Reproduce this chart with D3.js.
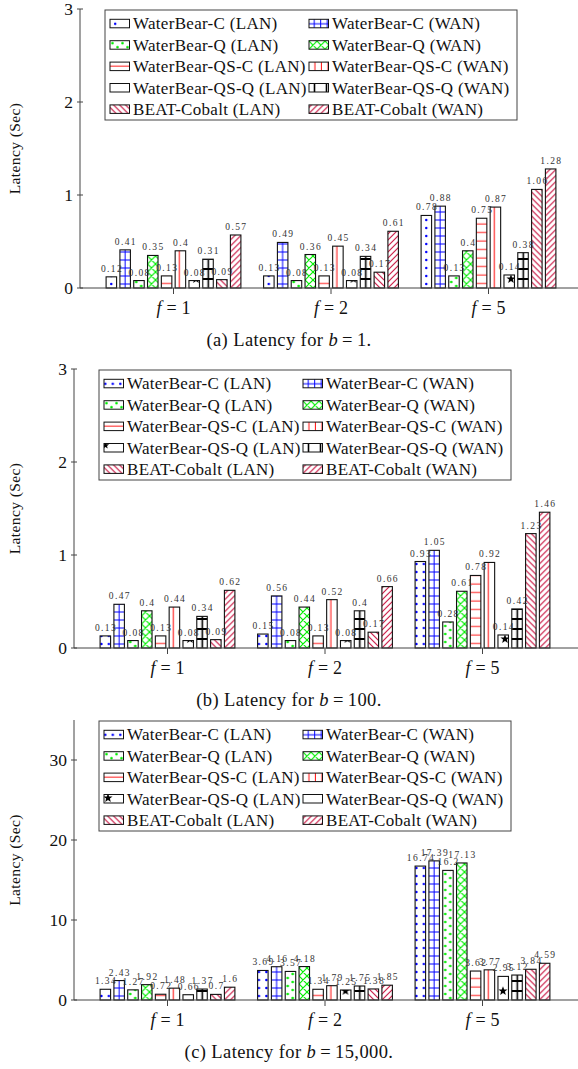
<!DOCTYPE html>
<html><head><meta charset="utf-8">
<script src="https://cdn.jsdelivr.net/npm/d3@7"></script>
<style>body{margin:0;background:#fff} svg{display:block}</style>
</head><body><svg id="chart" width="578" height="1069"></svg>
<script>
// ---------- data ----------
const seriesNames = ["WaterBear-C (LAN)","WaterBear-C (WAN)","WaterBear-Q (LAN)","WaterBear-Q (WAN)",
  "WaterBear-QS-C (LAN)","WaterBear-QS-C (WAN)","WaterBear-QS-Q (LAN)","WaterBear-QS-Q (WAN)",
  "BEAT-Cobalt (LAN)","BEAT-Cobalt (WAN)"];
const groups = ["1","2","5"];            // f = 1, 2, 5
// latency (sec) per group, series order as seriesNames
const latencyB1 = [
  [0.12,0.41,0.08,0.35,0.13,0.4,0.08,0.31,0.09,0.57],
  [0.13,0.49,0.08,0.36,0.13,0.45,0.08,0.34,0.17,0.61],
  [0.78,0.88,0.13,0.4,0.75,0.87,0.14,0.38,1.06,1.28]];
const latencyB100 = [
  [0.13,0.47,0.08,0.4,0.13,0.44,0.08,0.34,0.09,0.62],
  [0.15,0.56,0.08,0.44,0.13,0.52,0.08,0.4,0.17,0.66],
  [0.93,1.05,0.28,0.61,0.78,0.92,0.14,0.42,1.23,1.46]];
const latencyB15000 = [
  [1.34,2.43,1.27,1.92,0.72,1.48,0.66,1.37,0.7,1.6],
  [3.69,4.16,3.57,4.18,1.34,1.79,1.25,1.75,1.38,1.85],
  [16.74,17.39,16.2,17.13,3.62,3.77,2.95,3.12,3.84,4.59]];
const yTicksSmall = [0,1,2,3];
const yTicksLarge = [0,10,20,30];
const captionPrefix = ["(a)","(b)","(c)"];
const captionValue = ["1.","100.","15,000."];

// ---------- drawing ----------
const svg = d3.select("#chart");
svg.append("rect").attr("width",578).attr("height",1069).attr("fill","#fff");
const defs = svg.append("defs");
const BLUE="#0000ff", GREEN="#00ee00", RED="#ff1a1a", CRIM="#c8103e";

function star(cx,cy,R,r){
  const pts=[];
  for(let k=0;k<10;k++){const a=-Math.PI/2+k*Math.PI/5;const rr=k%2?r:R;pts.push([cx+rr*Math.cos(a),cy+rr*Math.sin(a)]);}
  return "M"+pts.map(p=>p.map(v=>v.toFixed(2)).join(",")).join("L")+"Z";
}
// tile specs; tile origin is placed at each mark's bottom-left corner
const patSpecs = [
  (pi,leg)=>({w: pi===0?20:7.5, h:8, draw:g=>g.append("circle").attr("cx",pi===0?5.2:1.3).attr("cy",4).attr("r",1.25).attr("fill",BLUE)}),
  (pi,leg)=>({w:leg?6.5:20,h:8,draw:g=>{g.append("line").attr("x1",5.2).attr("x2",5.2).attr("y1",0).attr("y2",8).attr("stroke",BLUE).attr("stroke-width",1);
                   g.append("line").attr("x1",0).attr("x2",20).attr("y1",4).attr("y2",4).attr("stroke",BLUE).attr("stroke-width",1);}}),
  (pi,leg)=>({w:10,h:8,draw:g=>{g.append("circle").attr("cx",2.5).attr("cy",2).attr("r",1.3).attr("fill",GREEN);
                   g.append("circle").attr("cx",7.5).attr("cy",6).attr("r",1.3).attr("fill",GREEN);}}),
  (pi,leg)=>({w:8,h:8,draw:g=>{g.append("path").attr("d","M0,0L8,8M8,0L0,8M-1,7L1,9M7,-1L9,1M-1,1L1,-1M7,9L9,7").attr("stroke",GREEN).attr("stroke-width",1.2);}}),
  (pi,leg)=>({w:10,h:8.5,draw:g=>g.append("line").attr("x1",0).attr("x2",10).attr("y1",4).attr("y2",4).attr("stroke",RED).attr("stroke-width",1)}),
  (pi,leg)=>({w:leg?6.5:20,h:10,draw:g=>g.append("line").attr("x1",leg?6:4.2).attr("x2",leg?6:4.2).attr("y1",0).attr("y2",10).attr("stroke",RED).attr("stroke-width",1.1)}),
  (pi,leg)=>({w:40,h:26,draw:g=>{
      if(leg && pi===0) return;
      if(leg && pi===1){ g.append("path").attr("d",star(1.5,19.5,3.8,1.6)).attr("fill","#000"); return; }
      if(leg){ g.append("path").attr("d",star(4,21,4.8,2)).attr("fill","#000"); return; }
      g.append("path").attr("d",star(pi===2?5:7,17,4.8,2)).attr("fill","#000");}}),
  (pi,leg)=>({w:12,h:10,draw:g=>{ if(leg && pi===2) return;
                   g.append("line").attr("x1",0).attr("x2",12).attr("y1",1).attr("y2",1).attr("stroke","#000").attr("stroke-width",2);
                   g.append("line").attr("x1",5.5).attr("x2",5.5).attr("y1",1).attr("y2",10).attr("stroke","#000").attr("stroke-width",1.6);}}),
  (pi,leg)=>({w:6,h:6,draw:g=>g.append("path").attr("d","M0,0L6,6M-1,5L1,7M5,-1L7,1").attr("stroke",CRIM).attr("stroke-width",1.1)}),
  (pi,leg)=>({w:6,h:6,draw:g=>g.append("path").attr("d","M0,6L6,0M-1,1L1,-1M5,7L7,5").attr("stroke",CRIM).attr("stroke-width",1.1)})
];
let patCount = 0;
function makePattern(series, pi, ox, oy, leg){
  const s = patSpecs[series](pi, !!leg);
  const id = "p"+(patCount++);
  const p = defs.append("pattern").attr("id",id).attr("patternUnits","userSpaceOnUse")
    .attr("x",ox).attr("y",oy).attr("width",s.w).attr("height",s.h);
  p.append("rect").attr("width",s.w).attr("height",s.h).attr("fill","#fff");
  s.draw(p);
  return `url(#${id})`;
}

const FONT = "'Liberation Serif','Times New Roman',serif";
const panels = [
  {data:latencyB1, ticks:yTicksSmall, yMax:3, axisX:80, baseY:288, topY:9, capY:346},
  {data:latencyB100, ticks:yTicksSmall, yMax:3, axisX:74, baseY:648, topY:369, capY:706},
  {data:latencyB15000, ticks:yTicksLarge, yMax:35, axisX:74, baseY:1000, topY:720, capY:1058}
];

panels.forEach((P,pi)=>{
  const g = svg.append("g");
  const x = d3.scalePoint().domain(groups).range([P.axisX+93.5, P.axisX+408.5]);
  const xi = d3.scaleBand().domain(d3.range(seriesNames.length)).range([-67.4,67.4]).paddingInner(0.24);
  const y = d3.scaleLinear().domain([0,P.yMax]).range([P.baseY,P.topY]);

  // bars
  P.data.forEach((vals,gi)=>{
    const cx = x(groups[gi]);
    const gg = g.append("g");
    gg.selectAll("rect").data(vals).join("rect")
      .attr("x",(d,i)=>cx+xi(i)).attr("width",xi.bandwidth())
      .attr("y",d=>y(d)).attr("height",d=>y(0)-y(d))
      .attr("fill",(d,i)=>makePattern(i,pi,cx+xi(i),y(0)))
      .attr("stroke","#111").attr("stroke-width",1.1);
    gg.selectAll("text").data(vals).join("text")
      .attr("x",(d,i)=>cx+xi(i)+xi.bandwidth()/2+0.7).attr("y",d=>y(d)-5)
      .attr("text-anchor","middle").attr("font-family",FONT).attr("font-size",9.5)
      .attr("letter-spacing",1.4).attr("fill","#333").text(d=>d);
  });

  // y axis
  g.append("line").attr("x1",P.axisX).attr("x2",P.axisX).attr("y1",P.baseY).attr("y2",P.topY).attr("stroke","#444").attr("stroke-width",1);
  P.ticks.forEach(t=>{
    g.append("line").attr("x1",P.axisX-3).attr("x2",P.axisX+3).attr("y1",y(t)).attr("y2",y(t)).attr("stroke","#444");
    g.append("text").attr("x",P.axisX-7).attr("y",y(t)).attr("dy","0.35em").attr("text-anchor","end")
      .attr("font-family",FONT).attr("font-size",17.5).attr("fill","#111").text(t);
  });
  // x axis
  g.append("line").attr("x1",P.axisX).attr("x2",578).attr("y1",P.baseY).attr("y2",P.baseY).attr("stroke","#444").attr("stroke-width",1);
  groups.forEach(c=>{
    g.append("line").attr("x1",x(c)).attr("x2",x(c)).attr("y1",P.baseY).attr("y2",P.baseY+6).attr("stroke","#444");
    const t = g.append("text").attr("x",x(c)).attr("y",P.baseY+26).attr("text-anchor","middle")
      .attr("font-family",FONT).attr("font-size",18).attr("fill","#111");
    t.append("tspan").attr("font-style","italic").text("f");
    t.append("tspan").attr("dx",5).text("=");
    t.append("tspan").attr("dx",5).text(c);
  });
  // y label
  g.append("text").attr("transform",`translate(15,${(P.baseY+P.topY)/2}) rotate(-90)`)
    .attr("text-anchor","middle").attr("dy","0.35em").attr("font-family",FONT).attr("font-size",15.5)
    .attr("letter-spacing",0.4).attr("fill","#111").text("Latency (Sec)");

  // legend
  const lx = P.axisX+25, ly = P.topY+1;
  const lg = g.append("g");
  lg.append("rect").attr("x",lx).attr("y",ly).attr("width",412).attr("height",110).attr("fill","#fff").attr("stroke","#444").attr("stroke-width",1);
  seriesNames.forEach((name,i)=>{
    const col = i%2, row = Math.floor(i/2);
    const ix = lx + 5 + col*199, iy = ly + 13.5 + row*21.4;
    lg.append("rect").attr("x",ix).attr("y",iy-4.2).attr("width",19.5).attr("height",8.5)
      .attr("fill",makePattern(i,pi,ix,iy+4.3,true)).attr("stroke","#111").attr("stroke-width",1);
    lg.append("text").attr("x",ix+23).attr("y",iy).attr("dy","0.35em")
      .attr("font-family",FONT).attr("font-size",17).attr("letter-spacing",0.3).attr("fill","#111").text(name);
  });

  // caption
  const cap = svg.append("text").attr("x",289).attr("y",P.capY).attr("text-anchor","middle")
    .attr("font-family",FONT).attr("font-size",18.5).attr("letter-spacing",0.4).attr("fill","#111");
  cap.append("tspan").text(captionPrefix[pi]+" Latency for ");
  cap.append("tspan").attr("font-style","italic").text("b");
  cap.append("tspan").attr("dx",4).text("=");
  cap.append("tspan").attr("dx",4).text(captionValue[pi]);
});
</script></body></html>
